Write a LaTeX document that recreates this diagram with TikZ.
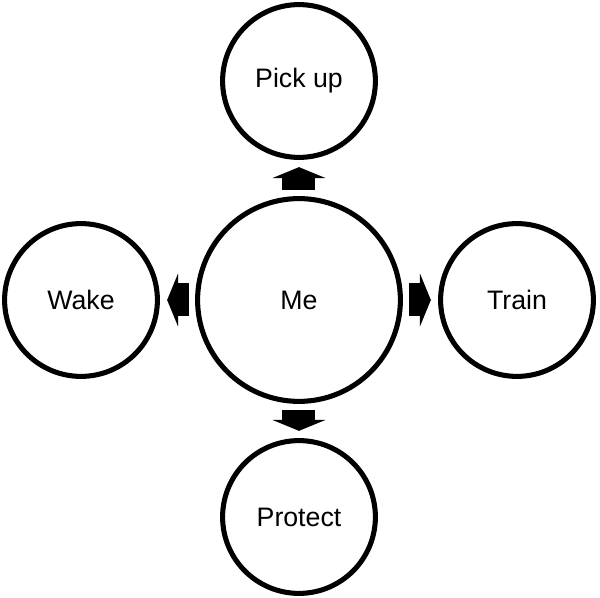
\documentclass[tikz,border=0pt]{standalone}
\usepackage{fontspec}
\setmainfont{Liberation Sans}
\usetikzlibrary{arrows.meta}

\begin{document}
\begin{tikzpicture}[font=\fontsize{19}{22}\selectfont, every node/.style={align=center},
    role/.style={circle, draw, line width=3.6pt, minimum size=3.82cm},
    hub/.style={circle, draw, line width=3.6pt, minimum size=5.07cm},
    push/.style={line width=0.825cm, -{Triangle[length=0.275cm, width=1.325cm]}, shorten <=0.16cm, shorten >=0.18cm}]
  \useasboundingbox (-7.475,-7.45) rectangle (7.525,7.5);

  % --- Centre ---
  \node[hub] (me) at (0,0) {Me};

  % --- Roles around it ---
  \node[role] (pickup)  at (0, 5.475)  {Pick up};
  \node[role] (wake)    at (-5.45, 0)  {Wake};
  \node[role] (train)   at (5.45, 0)   {Train};
  \node[role] (protect) at (0, -5.425) {Protect};

  % --- Block arrows ---
  \draw[push] (me) -- (pickup);
  \draw[push] (me) -- (wake);
  \draw[push] (me) -- (train);
  \draw[push] (me) -- (protect);
\end{tikzpicture}
\end{document}
